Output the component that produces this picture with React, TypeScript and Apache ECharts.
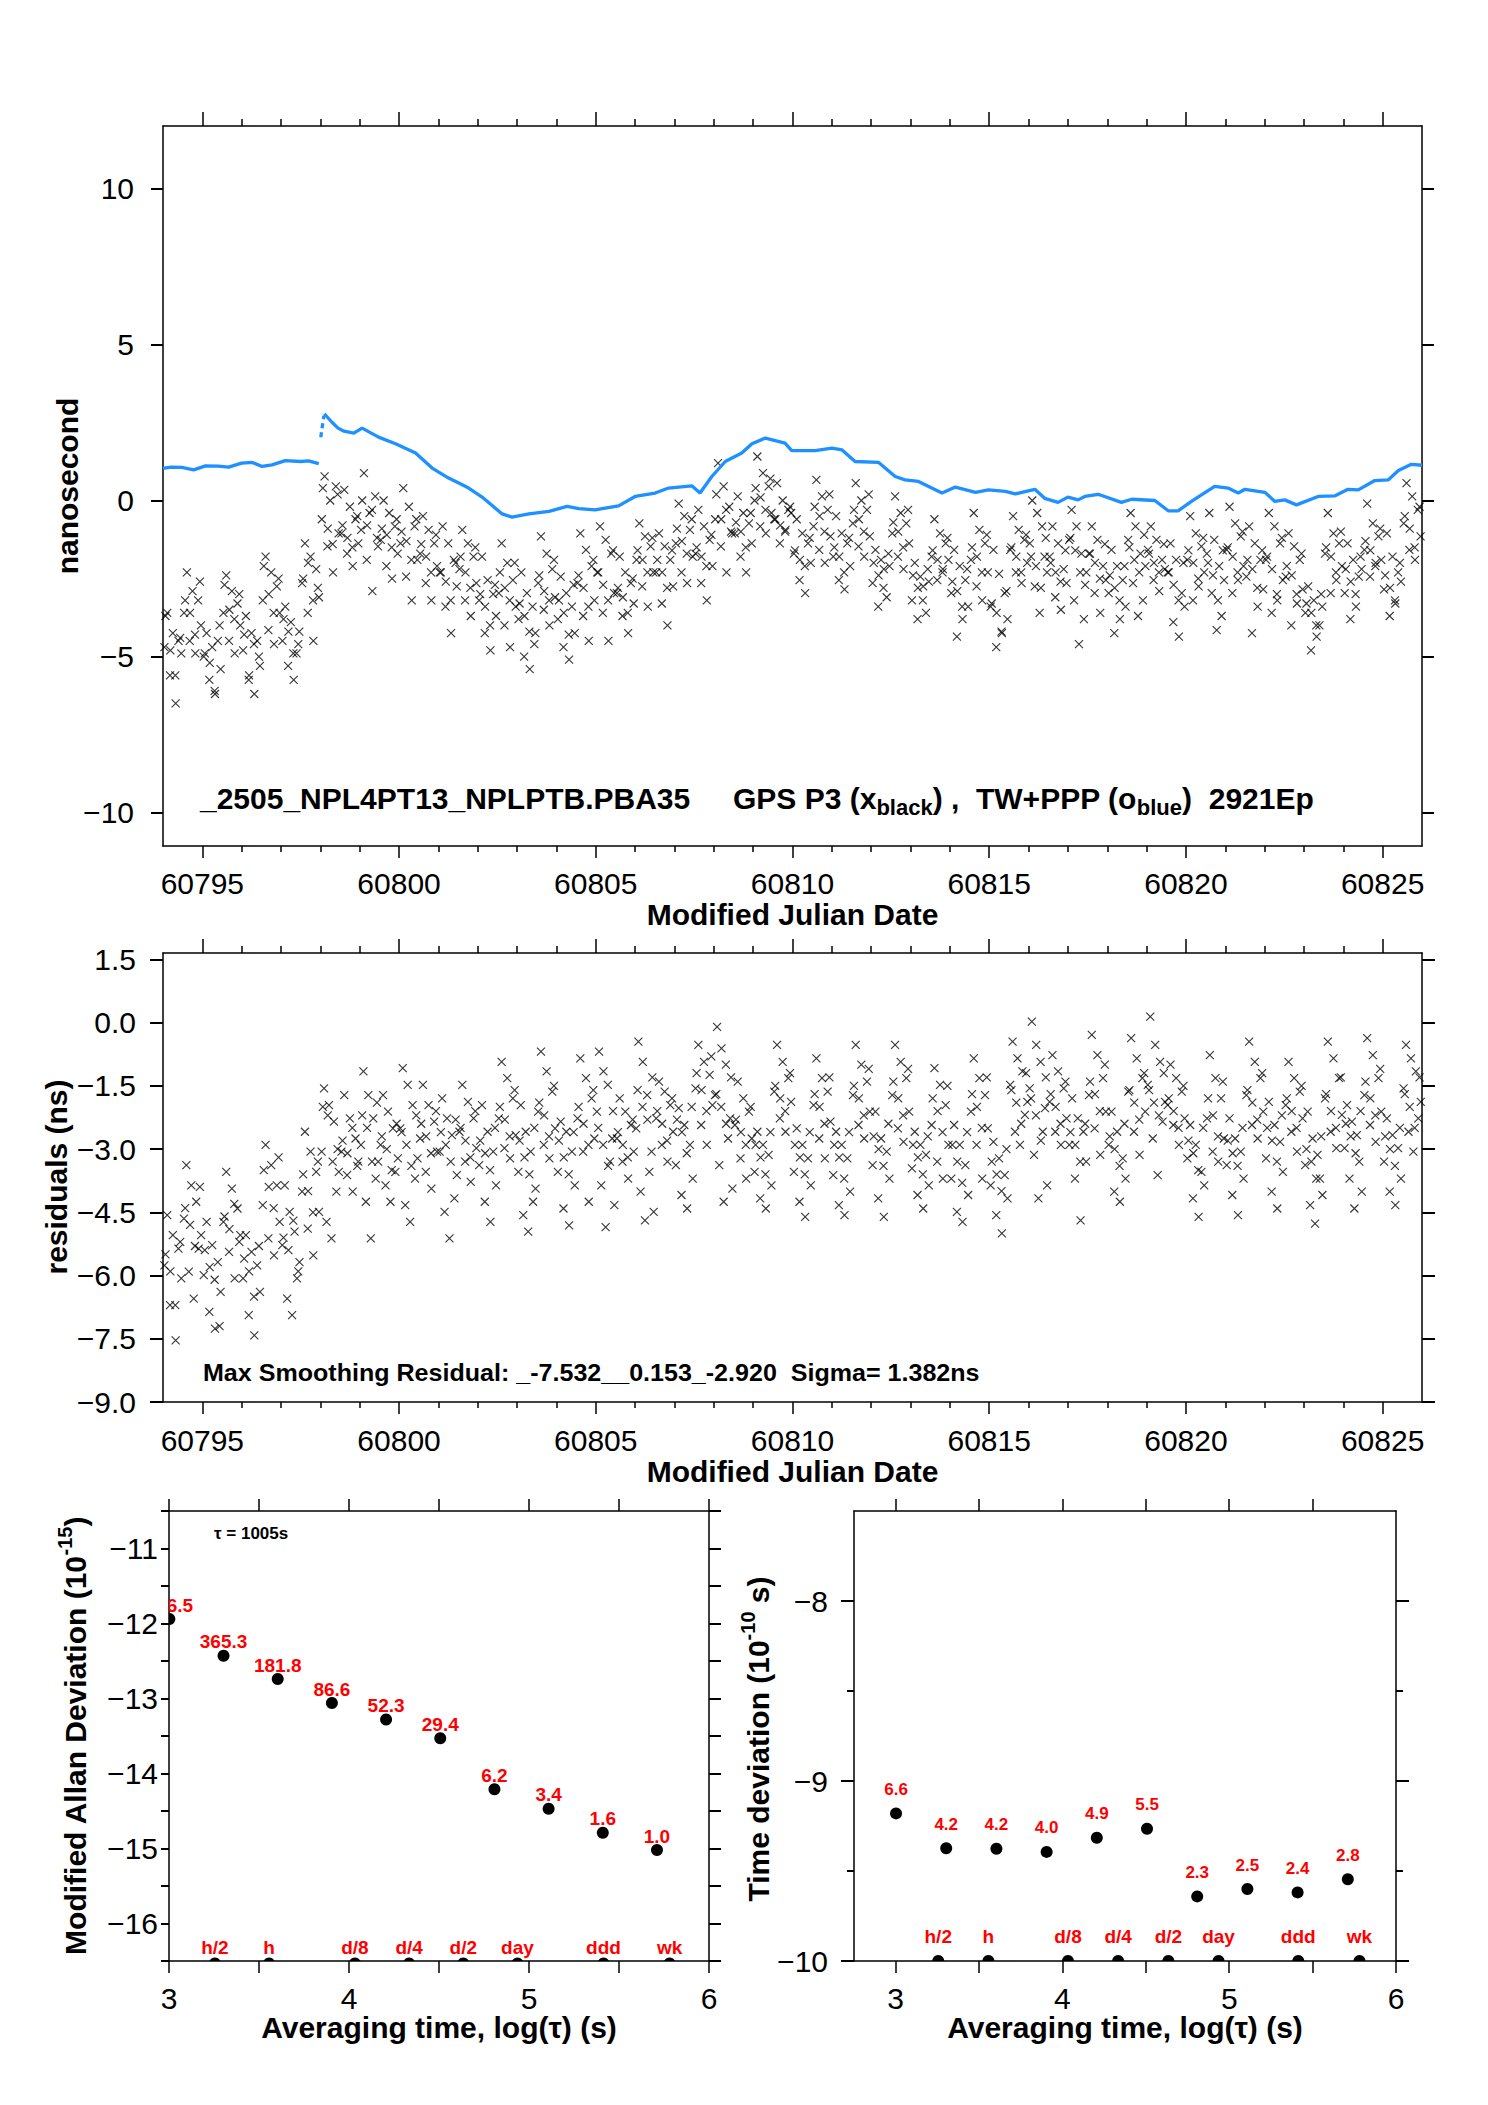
import React, { useEffect, useRef } from "react";
import * as echarts from "echarts";

const FONT = '"Liberation Sans", Arial, Helvetica, sans-serif';
const AX = "#000";
const RED = "#ff0000";
const BLUE = "#1e90ff";

// ---------- top panel: GPS P3 points (ns), half-day bins starting at MJD 60794 ----------
const MJD_START = 60794;
const BIN_DAYS = 0.5;
const gpsBins: number[][] = [
  [-4.7, -3.6, -5.6, -4.25, -6.5, -4.5, -4.9],
  [-3.6, -2.3, -4.5, -2.9, -4.9, -3.2, -4.0],
  [-5.0, -4.25, -5.75, -4.7, -6.2, -4.5, -5.4],
  [-3.6, -2.4, -4.5, -2.9, -4.9, -3.3, -4.0],
  [-4.8, -3.7, -5.75, -4.25, -6.2, -4.5, -5.3],
  [-3.2, -1.8, -4.15, -2.3, -4.6, -2.75, -3.6],
  [-4.5, -3.4, -5.3, -3.9, -5.75, -4.9, -4.2],
  [-2.65, -1.37, -3.6, -1.8, -4.5, -2.2, -3.1],
  [-0.6, 0.77, -1.47, 0.0, -2.3, 0.45, -1.05],
  [-1.05, 0.34, -1.7, -0.2, -2.1, -0.6, -1.37],
  [-0.94, 0.88, -1.9, -0.4, -2.9, 0.13, -1.47],
  [-1.26, 0.0, -2.1, -0.4, -2.5, -0.83, -1.7],
  [-1.37, 0.4, -2.44, -0.2, -3.2, -0.83, -1.9],
  [-1.7, -0.5, -2.65, -0.94, -3.2, -1.37, -2.1],
  [-2.3, -0.83, -3.4, -1.37, -4.25, -1.9, -2.75],
  [-2.2, -0.94, -3.2, -1.37, -3.7, -1.8, -2.65],
  [-3.2, -1.8, -4.25, -2.55, -4.8, -3.0, -3.7],
  [-2.97, -1.37, -4.0, -2.0, -4.7, -2.55, -3.4],
  [-3.8, -2.3, -5.0, -2.97, -5.4, -3.4, -4.25],
  [-2.65, -1.15, -3.5, -1.7, -4.0, -2.2, -3.1],
  [-3.8, -2.44, -4.7, -2.97, -5.1, -3.4, -4.25],
  [-2.65, -1.05, -3.7, -1.58, -4.5, -2.1, -3.2],
  [-2.3, -0.83, -3.6, -1.26, -4.5, -1.7, -2.97],
  [-2.97, -1.8, -3.7, -2.3, -4.25, -2.65, -3.3],
  [-1.9, -0.73, -2.75, -1.15, -3.4, -1.47, -2.3],
  [-2.3, -1.05, -3.3, -1.47, -4.0, -1.9, -2.75],
  [-1.37, -0.1, -2.3, -0.5, -2.65, -0.94, -1.8],
  [-1.7, -0.3, -2.65, -0.83, -3.2, -1.26, -2.1],
  [-0.6, 1.2, -1.47, 0.45, -2.3, -0.2, -1.05],
  [-1.05, 0.13, -1.8, -0.4, -2.3, -0.73, -1.37],
  [0.0, 1.41, -0.83, 0.88, -1.05, 0.45, -0.4],
  [-0.6, 0.56, -1.37, 0.0, -0.94, -0.3, -0.4],
  [-1.7, -0.6, -2.55, -1.05, -2.97, -1.37, -2.0],
  [-0.83, 0.66, -1.58, 0.13, -2.0, -0.3, -1.15],
  [-1.8, -0.5, -2.55, -1.05, -2.85, -1.37, -2.1],
  [-0.73, 0.56, -1.47, 0.0, -1.8, -0.3, -1.15],
  [-2.65, -1.58, -3.4, -1.9, -2.2, -3.1, -2.1],
  [-1.05, 0.13, -1.8, -0.4, -2.2, -0.73, -1.37],
  [-3.2, -2.0, -3.8, -2.44, -2.75, -3.6, -2.6],
  [-1.8, -0.6, -2.55, -1.05, -2.2, -1.37, -1.9],
  [-2.97, -1.58, -4.36, -2.1, -3.8, -2.55, -3.4],
  [-1.9, -0.4, -2.75, -0.94, -3.2, -1.37, -2.3],
  [-3.4, -1.58, -4.7, -2.35, -4.25, -2.97, -3.8],
  [-1.58, -0.5, -2.3, -0.94, -2.65, -1.26, -2.0],
  [-1.37, 0.0, -2.75, -0.4, -3.6, -0.83, -1.8, -2.3],
  [-1.8, -0.83, -3.1, -1.37, -3.5, -2.2, -2.65],
  [-1.26, -0.3, -3.2, -0.83, -4.6, -1.7, -3.8, -2.3],
  [-1.7, -0.83, -2.97, -1.26, -3.6, -2.1, -2.55],
  [-2.97, -1.58, -4.25, -2.1, -3.8, -2.55, -3.4],
  [-1.26, -0.4, -2.65, -0.83, -3.7, -1.7, -3.2, -2.1],
  [-1.58, -0.83, -2.55, -1.26, -2.9, -1.9, -2.2],
  [-2.3, -1.37, -3.9, -1.9, -4.36, -2.97, -3.4],
  [-1.9, -0.5, -3.2, -1.05, -2.75, -1.47, -2.3],
  [-1.7, -0.4, -2.97, -1.26, -4.15, -2.1, -3.7, -2.55],
  [-1.58, -0.2, -2.97, -0.73, -2.55, -1.15, -2.1],
  [-2.44, -0.83, -4.25, -1.37, -3.4, -1.9, -2.85],
  [-1.9, -0.4, -3.6, -0.83, -3.2, -1.37, -2.55],
  [-2.44, -1.05, -4.0, -1.47, -3.3, -1.9, -2.85],
  [-3.6, -2.75, -4.8, -3.2, -4.36, -4.0, -3.4],
  [-1.7, -0.4, -2.97, -1.05, -2.55, -1.37, -2.1],
  [-2.97, -1.37, -3.8, -1.9, -3.4, -2.44, -2.2],
  [-1.58, -0.1, -2.44, -0.73, -2.0, -1.15, -1.9],
  [-2.85, -1.05, -3.7, -1.8, -3.3, -2.3, -2.6],
  [-0.73, 0.56, -1.58, 0.13, -1.9, -0.3, -1.15],
];
// dense core of each half-day bin (top panel)
const gpsCoreBins: number[][] = [
  [-3.7, -4.8, -5.6, -4.4], [-3.2, -3.6, -4.3, -2.6], [-4.9, -5.2, -6.1, -4.0], [-2.7, -3.5, -3.8, -3.0],
  [-4.3, -5.6, -4.6, -5.0], [-2.1, -3.0, -3.6, -2.5], [-3.8, -4.2, -4.9, -4.6], [-2.5, -2.0, -3.2, -2.8],
  [0.4, -0.9, -1.4, 0.2], [-0.8, -1.2, -1.5, -0.5], [0.0, -0.8, -0.3, -1.2], [-0.9, -1.1, -1.5, -0.6],
  [-1.0, -1.3, -1.9, -0.6], [-1.4, -1.8, -2.3, -1.1], [-2.3, -2.6, -3.2, -2.0], [-1.8, -2.3, -2.8, -1.5],
  [-3.0, -3.4, -4.0, -2.7], [-2.3, -2.8, -3.2, -2.0], [-3.3, -3.7, -4.2, -4.6], [-2.4, -2.9, -3.2, -1.9],
  [-3.2, -3.6, -4.3, -2.7], [-2.4, -2.8, -3.4, -1.9], [-2.3, -2.7, -3.2, -1.6], [-2.8, -3.1, -3.6, -2.5],
  [-1.6, -1.9, -2.3, -1.2], [-1.9, -2.3, -2.8, -1.6], [-0.9, -1.3, -1.7, -0.6], [-1.5, -1.8, -2.1, -1.1],
  [0.2, -0.6, -0.3, -1.0], [-0.7, -1.0, -1.5, -0.4], [0.4, 0.1, -0.3, 0.7], [-0.6, -0.8, -1.0, -0.2],
  [-1.6, -1.9, -2.1, -1.2], [-0.2, -0.5, -1.0, 0.2], [-1.5, -1.8, -2.3, -1.2], [-0.3, -0.6, -1.0, 0.2],
  [-2.0, -2.4, -2.8, -1.7], [-0.7, -1.0, -1.5, -0.3], [-2.4, -2.8, -3.2, -2.2], [-1.6, -1.9, -2.3, -1.2],
  [-2.6, -2.9, -3.4, -2.2], [-1.5, -1.8, -2.3, -1.1], [-3.3, -3.6, -4.2, -2.9], [-1.5, -1.8, -2.3, -1.1],
  [-1.8, -2.1, -2.8, -1.2], [-2.0, -2.3, -2.6, -1.6], [-1.2, -1.6, -2.3, -2.7], [-1.7, -2.0, -2.5, -1.4],
  [-2.4, -2.8, -3.2, -2.1], [-1.5, -1.9, -2.3, -1.1], [-1.7, -2.0, -2.3, -1.4], [-2.3, -2.7, -3.2, -2.0],
  [-1.6, -2.0, -2.5, -1.2], [-2.0, -2.4, -3.2, -1.6], [-1.5, -1.8, -2.3, -1.0], [-1.9, -2.2, -2.8, -1.6],
  [-1.8, -2.2, -3.0, -1.2], [-2.1, -2.4, -3.0, -1.7], [-3.3, -3.6, -4.0, -3.0], [-1.5, -1.8, -2.3, -1.0],
  [-2.2, -2.6, -3.0, -1.8], [-1.3, -1.6, -2.1, -0.9], [-2.4, -2.8, -3.2, -2.0], [-0.5, -0.9, -1.5, -0.2],
];

// ---------- top panel: TW+PPP (blue) ----------
const blueMjdA = [60794.0, 60794.2, 60794.48, 60794.78, 60795.08, 60795.4, 60795.67, 60796.0, 60796.27, 60796.52, 60796.77, 60797.11, 60797.5, 60797.7, 60797.96];
const blueValA = [1.03, 1.07, 1.06, 0.98, 1.11, 1.1, 1.07, 1.2, 1.22, 1.09, 1.14, 1.28, 1.25, 1.27, 1.18];
const blueMjdDash = [60798.01, 60798.05, 60798.09];
const blueValDash = [2.03, 2.38, 2.72];
const blueMjdB = [60798.1, 60798.3, 60798.45, 60798.6, 60798.85, 60799.06, 60799.48, 60799.91, 60800.42, 60800.84, 60801.26, 60801.77, 60802.11, 60802.62, 60802.87, 60803.3, 60803.81, 60804.27, 60804.57, 60804.98, 60805.58, 60806.0, 60806.51, 60806.85, 60807.44, 60807.65, 60807.95, 60808.29, 60808.71, 60808.97, 60809.31, 60809.81, 60809.98, 60810.58, 60811.0, 60811.26, 60811.59, 60812.19, 60812.61, 60812.86, 60813.2, 60813.8, 60814.14, 60814.65, 60814.98, 60815.41, 60815.66, 60816.16, 60816.41, 60816.75, 60817.0, 60817.26, 60817.43, 60817.77, 60818.36, 60818.62, 60819.21, 60819.55, 60819.8, 60820.14, 60820.73, 60821.07, 60821.33, 60821.5, 60822.01, 60822.26, 60822.51, 60822.81, 60823.36, 60823.79, 60824.12, 60824.38, 60824.8, 60825.14, 60825.4, 60825.73, 60826.0];
const blueValB = [2.78, 2.5, 2.32, 2.22, 2.16, 2.32, 2.03, 1.82, 1.52, 1.04, 0.72, 0.4, 0.11, -0.43, -0.53, -0.43, -0.35, -0.19, -0.26, -0.3, -0.17, 0.13, 0.24, 0.4, 0.47, 0.24, 0.77, 1.25, 1.52, 1.82, 2.0, 1.84, 1.6, 1.6, 1.68, 1.62, 1.25, 1.22, 0.77, 0.66, 0.61, 0.24, 0.43, 0.26, 0.34, 0.29, 0.21, 0.36, 0.07, -0.06, 0.11, 0.02, 0.13, 0.2, -0.06, 0.04, 0.0, -0.33, -0.33, -0.03, 0.45, 0.4, 0.24, 0.36, 0.26, -0.03, 0.02, -0.14, 0.13, 0.15, 0.36, 0.34, 0.64, 0.66, 0.96, 1.16, 1.13];

// ---------- middle panel: residuals (ns), half-day bins ----------
const residBins: number[][] = [
  [-5.76, -4.57, -6.7, -5.04, -7.54, -5.36, -6.07],
  [-4.65, -3.38, -5.91, -3.86, -6.55, -4.25, -5.36, -5.04],
  [-5.99, -4.73, -6.86, -5.28, -7.26, -5.68, -6.39],
  [-4.73, -3.54, -5.44, -3.94, -6.07, -4.41, -5.04],
  [-6.07, -5.04, -6.94, -5.44, -7.42, -5.76, -6.39],
  [-4.33, -2.9, -5.12, -3.38, -5.52, -3.86, -4.73],
  [-5.28, -3.86, -6.55, -4.49, -6.94, -4.96, -6.07, -5.68],
  [-4.01, -2.59, -4.89, -3.06, -5.52, -3.54, -4.49],
  [-3.06, -1.56, -4.73, -1.96, -5.12, -2.35, -4.01, -3.54],
  [-3.06, -1.72, -3.62, -2.27, -4.01, -2.75, -3.3],
  [-2.9, -1.16, -4.25, -1.72, -5.12, -2.27, -3.7, -3.3],
  [-2.9, -1.72, -3.86, -2.11, -4.25, -2.51, -3.54, -3.22],
  [-2.51, -1.08, -4.33, -1.48, -4.73, -1.96, -3.7, -3.22],
  [-2.75, -1.48, -3.54, -1.96, -3.94, -2.35, -3.06],
  [-3.06, -1.8, -4.49, -2.27, -5.12, -2.67, -4.17, -3.62],
  [-2.59, -1.48, -3.3, -1.88, -3.78, -2.27, -2.98],
  [-3.38, -1.96, -4.25, -2.59, -4.73, -3.06, -3.86],
  [-2.27, -0.93, -2.98, -1.32, -3.22, -1.8, -2.67],
  [-3.54, -1.96, -4.57, -2.59, -4.96, -3.06, -4.25, -3.94],
  [-2.11, -0.69, -2.9, -1.16, -3.22, -1.64, -2.51],
  [-3.54, -2.35, -4.41, -2.59, -4.81, -3.06, -3.86],
  [-2.27, -0.85, -3.06, -1.32, -4.25, -1.8, -2.75],
  [-2.11, -0.69, -3.86, -1.16, -4.85, -1.48, -3.3, -2.75, -4.33],
  [-2.75, -1.8, -3.3, -2.11, -3.7, -2.43, -3.06],
  [-2.51, -0.45, -4.01, -0.93, -4.69, -1.72, -3.54, -3.06, -4.49],
  [-2.27, -1.4, -2.9, -1.64, -3.3, -1.96, -2.59],
  [-3.38, -2.03, -4.09, -2.43, -4.41, -2.9, -3.7],
  [-1.56, -0.53, -2.43, -0.93, -2.9, -1.24, -1.96],
  [-1.72, -0.1, -3.38, -0.61, -4.25, -1.0, -2.75, -2.27, -3.94],
  [-2.43, -1.4, -3.22, -1.8, -3.7, -2.11, -2.75],
  [-3.54, -2.59, -4.17, -2.9, -4.41, -3.14, -3.86],
  [-1.64, -0.53, -2.27, -0.93, -2.59, -1.32, -1.88],
  [-3.54, -2.51, -4.25, -2.9, -4.61, -3.22, -3.86],
  [-1.96, -0.85, -2.75, -1.32, -3.22, -1.64, -2.35],
  [-3.62, -2.59, -4.33, -2.9, -4.57, -3.22, -4.01],
  [-1.72, -0.53, -2.43, -1.0, -2.75, -1.4, -2.11],
  [-3.38, -2.11, -4.17, -2.75, -4.61, -3.06, -3.7],
  [-1.72, -0.53, -2.51, -0.93, -2.83, -1.32, -2.11],
  [-3.46, -2.59, -4.09, -2.9, -4.41, -3.14, -3.86],
  [-2.43, -1.08, -3.3, -1.48, -3.7, -1.96, -2.9],
  [-3.7, -2.43, -4.49, -2.9, -4.73, -3.38, -4.09],
  [-2.11, -0.85, -2.9, -1.32, -3.7, -1.72, -2.51],
  [-3.86, -2.83, -4.57, -3.22, -5.0, -3.62, -4.17],
  [-1.48, -0.45, -2.59, -0.85, -2.9, -1.16, -2.19, -1.88],
  [-1.56, 0.02, -3.14, -0.53, -4.17, -0.93, -2.59, -2.03, -3.86],
  [-1.88, -0.77, -2.59, -1.16, -2.9, -1.56, -2.27],
  [-2.9, -1.8, -3.7, -2.27, -4.69, -2.59, -3.3],
  [-1.72, -0.29, -2.51, -0.77, -3.14, -1.32, -2.11],
  [-2.9, -2.11, -4.01, -2.59, -4.25, -3.22, -3.7],
  [-1.64, -0.37, -2.59, -0.85, -3.14, -1.32, -2.11],
  [-1.48, 0.14, -2.75, -0.53, -3.62, -0.93, -2.35, -1.88],
  [-1.96, -1.0, -2.43, -1.32, -2.9, -1.64, -2.27],
  [-3.22, -2.43, -4.17, -2.9, -4.61, -3.54, -3.86],
  [-2.27, -0.77, -3.06, -1.32, -3.3, -1.8, -2.75],
  [-3.38, -2.27, -4.09, -2.75, -4.57, -3.06, -3.7],
  [-1.72, -0.45, -2.43, -0.93, -2.75, -1.32, -2.11],
  [-3.22, -1.88, -4.01, -2.43, -4.41, -2.83, -3.54],
  [-1.96, -0.93, -2.59, -1.32, -3.06, -1.64, -2.27],
  [-3.38, -2.11, -4.33, -2.75, -4.77, -3.14, -3.7, -4.09],
  [-1.8, -0.45, -2.59, -0.85, -2.98, -1.32, -2.19],
  [-2.98, -1.96, -3.7, -2.35, -4.41, -2.67, -3.3, -4.01],
  [-1.72, -0.37, -2.43, -0.77, -2.83, -1.32, -2.11],
  [-3.3, -2.27, -4.01, -2.67, -4.33, -2.98, -3.7],
  [-1.56, -0.53, -2.59, -0.85, -3.06, -1.16, -2.27, -1.88],
];
// dense core of each half-day bin (middle panel)
const residCoreBins: number[][] = [
  [-5.5, -5.9, -6.7, -5.2], [-4.4, -4.8, -5.3, -3.9], [-5.4, -5.8, -6.1, -7.2], [-4.6, -4.9, -4.3, -5.2],
  [-5.6, -5.9, -6.5, -5.3], [-3.5, -3.9, -4.4, -3.2], [-5.1, -5.4, -4.7, -5.9], [-3.6, -4.0, -4.5, -3.3],
  [-2.0, -2.2, -3.3, -3.0], [-2.8, -3.1, -2.5, -3.4], [-2.2, -2.5, -3.3, -1.9], [-2.7, -3.0, -3.5, -2.4],
  [-2.6, -2.9, -3.4, -2.2], [-2.4, -2.7, -3.1, -2.1], [-2.6, -2.9, -3.3, -2.3], [-2.5, -2.8, -3.2, -2.1],
  [-2.8, -3.1, -3.5, -2.5], [-2.0, -2.3, -2.7, -1.6], [-2.8, -3.2, -3.6, -2.5], [-1.9, -2.2, -2.7, -1.5],
  [-2.8, -3.2, -3.6, -2.6], [-2.0, -2.4, -2.9, -1.6], [-2.5, -2.9, -3.4, -2.1], [-2.6, -2.9, -3.2, -2.3],
  [-1.6, -2.0, -2.3, -1.3], [-2.1, -2.4, -2.8, -1.8], [-2.3, -2.6, -3.1, -2.0], [-1.2, -1.6, -2.1, -0.8],
  [-1.7, -2.0, -2.4, -1.3], [-2.3, -2.6, -2.9, -2.0], [-2.9, -3.2, -3.6, -2.6], [-1.5, -1.8, -2.1, -1.2],
  [-2.9, -3.2, -3.6, -2.6], [-1.7, -2.0, -2.4, -1.3], [-2.9, -3.2, -3.7, -2.6], [-1.5, -1.8, -2.2, -1.1],
  [-2.7, -3.0, -3.4, -2.4], [-1.4, -1.8, -2.2, -1.1], [-2.9, -3.2, -3.6, -2.7], [-1.8, -2.1, -2.6, -1.5],
  [-2.9, -3.3, -3.8, -2.6], [-1.7, -2.0, -2.5, -1.3], [-3.3, -3.6, -4.0, -3.0], [-1.6, -1.9, -2.4, -1.2],
  [-1.8, -2.2, -2.8, -1.3], [-1.7, -2.0, -2.4, -1.4], [-2.6, -2.9, -3.3, -2.4], [-1.4, -1.7, -2.1, -1.0],
  [-2.7, -3.0, -3.4, -2.4], [-1.6, -1.9, -2.3, -1.2], [-1.6, -1.9, -2.2, -1.2], [-1.8, -2.1, -2.5, -1.5],
  [-2.8, -3.1, -3.5, -2.5], [-1.8, -2.2, -2.7, -1.4], [-2.8, -3.1, -3.4, -2.5], [-1.6, -1.9, -2.3, -1.2],
  [-2.5, -2.8, -3.3, -2.2], [-1.8, -2.1, -2.5, -1.5], [-3.0, -3.3, -3.7, -2.7], [-1.7, -2.1, -2.5, -1.3],
  [-2.4, -2.7, -3.1, -2.1], [-1.4, -1.8, -2.2, -1.1], [-2.7, -3.0, -3.4, -2.5], [-1.7, -2.0, -2.5, -1.3],
];

// ---------- tick values ----------
const mjdMajorTicks = [60795, 60800, 60805, 60810, 60815, 60820, 60825];
const nsTicks = [-10, -5, 0, 5, 10];
const residTicks = [-9, -7.5, -6, -4.5, -3, -1.5, 0, 1.5];
const logTauTicks = [3, 3.5, 4, 4.5, 5, 5.5, 6];
const logTauLabels = [3, 4, 5, 6];
const tdevMajorTicks = [-10, -9, -8];

// ---------- bottom panels ----------
const logTau = [3.002, 3.303, 3.604, 3.905, 4.206, 4.507, 4.808, 5.109, 5.41, 5.711];
const modAdev = [-11.94, -12.43, -12.74, -13.06, -13.28, -13.53, -14.21, -14.47, -14.79, -15.02];
const modAdevLabels = ["736.5", "365.3", "181.8", "86.6", "52.3", "29.4", "6.2", "3.4", "1.6", "1.0"];
const tdev = [-9.18, -9.374, -9.376, -9.394, -9.315, -9.265, -9.641, -9.6, -9.619, -9.546];
const tdevLabels = ["6.6", "4.2", "4.2", "4.0", "4.9", "5.5", "2.3", "2.5", "2.4", "2.8"];
const refTauLog = [3.255, 3.556, 4.033, 4.334, 4.635, 4.936, 5.414, 5.781];
const refTauLabels = ["h/2", "h", "d/8", "d/4", "d/2", "day", "ddd", "wk"];

// ---------- helpers ----------
function binPoints(bins: number[][]) {
  const pts: number[][] = [];
  bins.forEach((vals, b) => {
    vals.forEach((v, j) => {
      pts.push([MJD_START + b * BIN_DAYS + ((j + 0.5) * BIN_DAYS) / vals.length, v]);
    });
  });
  return pts;
}
const zip = (xs: number[], ys: number[]) => xs.map((x, i) => [x, ys[i]]);
const minus = (s: string) => s.replace("-", "\u2212");
const isMult = (v: number, m: number) => Math.abs(v / m - Math.round(v / m)) < 1e-6;
const fmtMjd = (v: number) => (isMult(v, 5) ? String(Math.round(v)) : "");
const fmtNs = (v: number) => (isMult(v, 5) && v >= -10 && v <= 10 ? minus(String(Math.round(v))) : "");
const fmtResid = (v: number) => (isMult(v, 1.5) && v <= 1.5 + 1e-6 ? minus(v.toFixed(1)) : "");
const fmtInt = (v: number) => (isMult(v, 1) ? minus(String(Math.round(v))) : "");

const tick = (length: number, width: number, customValues?: number[]) => ({
  show: true,
  inside: false,
  length,
  lineStyle: { color: AX, width },
  ...(customValues ? { customValues } : {}),
});
const minor = (splitNumber: number, length: number, width: number) => ({
  show: true,
  splitNumber,
  length,
  lineStyle: { color: AX, width },
});
const label = (margin: number, formatter: (v: number) => string, customValues?: number[], extra: any = {}) => ({
  show: true,
  margin,
  formatter,
  fontSize: 30,
  lineHeight: 26,
  color: AX,
  fontFamily: FONT,
  ...(customValues ? { customValues } : {}),
  ...extra,
});
const noLabel = { show: false };
const axisLine = { show: true, onZero: false, lineStyle: { color: AX, width: 1.5 } };

function ax(gridIndex: number, position: string, min: number, max: number, extra: any) {
  return {
    type: "value",
    gridIndex,
    position,
    min,
    max,
    axisLine,
    splitLine: { show: false },
    ...extra,
  };
}

const xPath = "path://M0,0L10,10M10,0L0,10";

function devRender(values: string[], labelDy: number, fontSize: number) {
  return (params: any, api: any) => {
    const p = api.coord([api.value(0), api.value(1)]);
    return {
      type: "group",
      children: [
        { type: "circle", shape: { cx: p[0], cy: p[1], r: 6 }, style: { fill: "#000" } },
        {
          type: "text",
          x: p[0],
          y: p[1] - labelDy,
          style: {
            text: values[params.dataIndex],
            fill: RED,
            fontSize,
            fontWeight: "bold",
            fontFamily: FONT,
            align: "center",
            verticalAlign: "middle",
          },
        },
      ],
    };
  };
}
function refRender(dotDy: number, labelDy: number) {
  return (params: any, api: any) => {
    const p = api.coord([api.value(0), api.value(1)]);
    return {
      type: "group",
      children: [
        { type: "circle", shape: { cx: p[0], cy: p[1] + dotDy, r: 6 }, style: { fill: "#000" } },
        {
          type: "text",
          x: p[0],
          y: p[1] - labelDy,
          style: {
            text: refTauLabels[params.dataIndex],
            fill: RED,
            fontSize: 19,
            fontWeight: "bold",
            fontFamily: FONT,
            align: "center",
            verticalAlign: "middle",
          },
        },
      ],
    };
  };
}

function txt(x: number, y: number, style: any, extra: any = {}) {
  return {
    type: "text",
    x,
    y,
    z: 100,
    silent: true,
    style: {
      fill: "#000",
      fontFamily: FONT,
      fontWeight: "bold",
      fontSize: 30,
      lineHeight: 26,
      align: "center",
      textAlign: "center",
      verticalAlign: "middle",
      textVerticalAlign: "middle",
      ...style,
    },
    ...extra,
  };
}

function buildOption(): any {
  const mjdX = (grid: number, pos: string) =>
    ax(grid, pos, 60794, 60826, {
      splitNumber: 6,
      minInterval: 5,
      maxInterval: 5,
      axisTick: tick(pos === "bottom" ? 12 : 14, 1.5, mjdMajorTicks),
      minorTick: minor(5, pos === "bottom" ? 6 : 7, 1.5),
      axisLabel: pos === "bottom" ? label(grid === 0 ? 24 : 25, fmtMjd, mjdMajorTicks) : noLabel,
    });

  const xAxis = [
    mjdX(0, "bottom"),
    mjdX(0, "top"),
    mjdX(1, "bottom"),
    mjdX(1, "top"),
    ax(2, "bottom", 3, 6, { interval: 0.5, axisTick: tick(12, 1.5), axisLabel: label(24, fmtInt) }),
    ax(2, "top", 3, 6, { interval: 0.5, axisTick: tick(12, 1.5), axisLabel: noLabel }),
    ax(3, "bottom", 2.75, 6, {
      splitNumber: 6,
      minInterval: 0.5,
      maxInterval: 0.5,
      axisTick: tick(12, 1.5, logTauTicks),
      axisLabel: label(24, fmtInt, logTauLabels),
    }),
    ax(3, "top", 2.75, 6, {
      splitNumber: 6,
      minInterval: 0.5,
      maxInterval: 0.5,
      axisTick: tick(12, 1.5, logTauTicks.slice(0, 6)),
      axisLabel: noLabel,
    }),
  ];

  const nsY = (pos: string) =>
    ax(0, pos, -11.07, 12, {
      splitNumber: 5,
      minInterval: 5,
      maxInterval: 5,
      axisTick: tick(12, 2, nsTicks),
      axisLabel: pos === "left" ? label(29, fmtNs, nsTicks) : noLabel,
    });
  const residY = (pos: string) =>
    ax(1, pos, -9, 1.65, {
      interval: 1.5,
      axisTick: tick(13, 2, residTicks),
      axisLabel: pos === "left" ? label(27, fmtResid, residTicks) : noLabel,
    });
  const adevY = (pos: string) =>
    ax(2, pos, -16.5, -10.5, {
      interval: 0.5,
      axisTick: tick(pos === "left" ? 8 : 12, 2),
      axisLabel: pos === "left" ? label(11, fmtInt) : noLabel,
    });
  const tdevY = (pos: string) =>
    ax(3, pos, -10, -7.5, {
      interval: 1,
      axisTick: tick(13, 2, tdevMajorTicks),
      minorTick: minor(2, 7, 2),
      axisLabel: pos === "left" ? label(26, fmtInt, tdevMajorTicks) : noLabel,
    });

  const yAxis = [nsY("left"), nsY("right"), residY("left"), residY("right"), adevY("left"), adevY("right"), tdevY("left"), tdevY("right")];

  const grid = [
    { left: 163, top: 126, width: 1259, height: 720 },
    { left: 163, top: 953, width: 1259, height: 449 },
    { left: 169, top: 1511, width: 540, height: 450 },
    { left: 854, top: 1511, width: 542, height: 450 },
  ];

  const crossStyle = { color: "rgba(0,0,0,0)", borderColor: "#000", borderWidth: 1.1 };
  const cross = (xi: number, data: number[][]) => ({
    type: "scatter",
    xAxisIndex: xi,
    yAxisIndex: xi,
    data,
    symbol: xPath,
    symbolSize: 8,
    itemStyle: crossStyle,
    silent: true,
    z: 2,
  });
  const blueLine = (data: number[][], dashed = false) => ({
    type: "line",
    xAxisIndex: 0,
    yAxisIndex: 0,
    data,
    showSymbol: false,
    symbol: "none",
    silent: true,
    z: 3,
    lineStyle: { color: BLUE, width: 3.3, type: dashed ? [5, 4] : "solid" },
  });
  const custom = (xi: number, data: number[][], renderItem: any) => ({
    type: "custom",
    xAxisIndex: xi,
    yAxisIndex: xi,
    clip: true,
    silent: true,
    dimensions: ["x", "y"],
    encode: { x: 0, y: 1 },
    data,
    renderItem,
  });

  const series = [
    cross(0, binPoints(gpsBins).concat(binPoints(gpsCoreBins))),
    blueLine(zip(blueMjdA, blueValA)),
    blueLine(zip(blueMjdDash, blueValDash), true),
    blueLine(zip(blueMjdB, blueValB)),
    cross(2, binPoints(residBins).concat(binPoints(residCoreBins))),
    custom(4, zip(logTau, modAdev), devRender(modAdevLabels, 14, 19)),
    custom(4, refTauLog.map((x) => [x, -16.5]), refRender(2.5, 13.7)),
    custom(6, zip(logTau, tdev), devRender(tdevLabels, 24, 17)),
    custom(6, refTauLog.map((x) => [x, -10]), refRender(0, 24.3)),
  ];

  const rot = Math.PI / 2;
  const supRich = {
    m: { fontSize: 30, fontWeight: "bold", fontFamily: FONT, lineHeight: 40, verticalAlign: "middle", fill: "#000" },
    p: { fontSize: 20, fontWeight: "bold", fontFamily: FONT, lineHeight: 16, verticalAlign: "top", fill: "#000" },
  };
  const graphic = [
    txt(200, 798, { text: "_2505_NPL4PT13_NPLPTB.PBA35", align: "left", textAlign: "left" }),
    txt(733, 798, {
      text: "{m|GPS P3 (x}{s|black}{m|) ,  TW+PPP (o}{s|blue}{m|)  2921Ep}",
      align: "left",
      textAlign: "left",
      rich: {
        m: { fontSize: 30, fontWeight: "bold", fontFamily: FONT, lineHeight: 40, verticalAlign: "middle", fill: "#000" },
        s: { fontSize: 22, fontWeight: "bold", fontFamily: FONT, lineHeight: 14, verticalAlign: "bottom", fill: "#000" },
      },
    }),
    txt(792.5, 914, { text: "Modified Julian Date" }),
    txt(792.5, 1471, { text: "Modified Julian Date" }),
    txt(
      203,
      1373,
      { text: "Max Smoothing Residual: _-7.532__0.153_-2.920  Sigma= 1.382ns", fontSize: 23, align: "left", textAlign: "left" },
      { scaleX: 1.09 }
    ),
    txt(67, 486, { text: "nanosecond" }, { rotation: rot }),
    txt(56, 1177, { text: "residuals (ns)" }, { rotation: rot }),
    txt(75, 1736, { text: "{m|Modified Allan Deviation (10}{p|-15}{m|)}", rich: supRich }, { rotation: rot }),
    txt(758, 1739, { text: "{m|Time deviation (10}{p|-10}{m| s)}", rich: supRich }, { rotation: rot }),
    txt(439, 2027, { text: "Averaging time, log(\u03c4) (s)" }),
    txt(1125, 2027, { text: "Averaging time, log(\u03c4) (s)" }),
    txt(214, 1533, { text: "\u03c4 = 1005s", fontSize: 17, lineHeight: 18, align: "left", textAlign: "left" }),
  ];

  return {
    animation: false,
    backgroundColor: "#fff",
    textStyle: { fontFamily: FONT },
    grid,
    xAxis,
    yAxis,
    series,
    graphic,
  };
}

export default function App() {
  const ref = useRef<HTMLDivElement>(null);
  useEffect(() => {
    document.body.style.margin = "0";
    const chart = echarts.init(ref.current as HTMLDivElement, undefined, { renderer: "svg" });
    chart.setOption(buildOption());
    return () => chart.dispose();
  }, []);
  return <div ref={ref} style={{ width: 1488, height: 2105, background: "#fff" }} />;
}
